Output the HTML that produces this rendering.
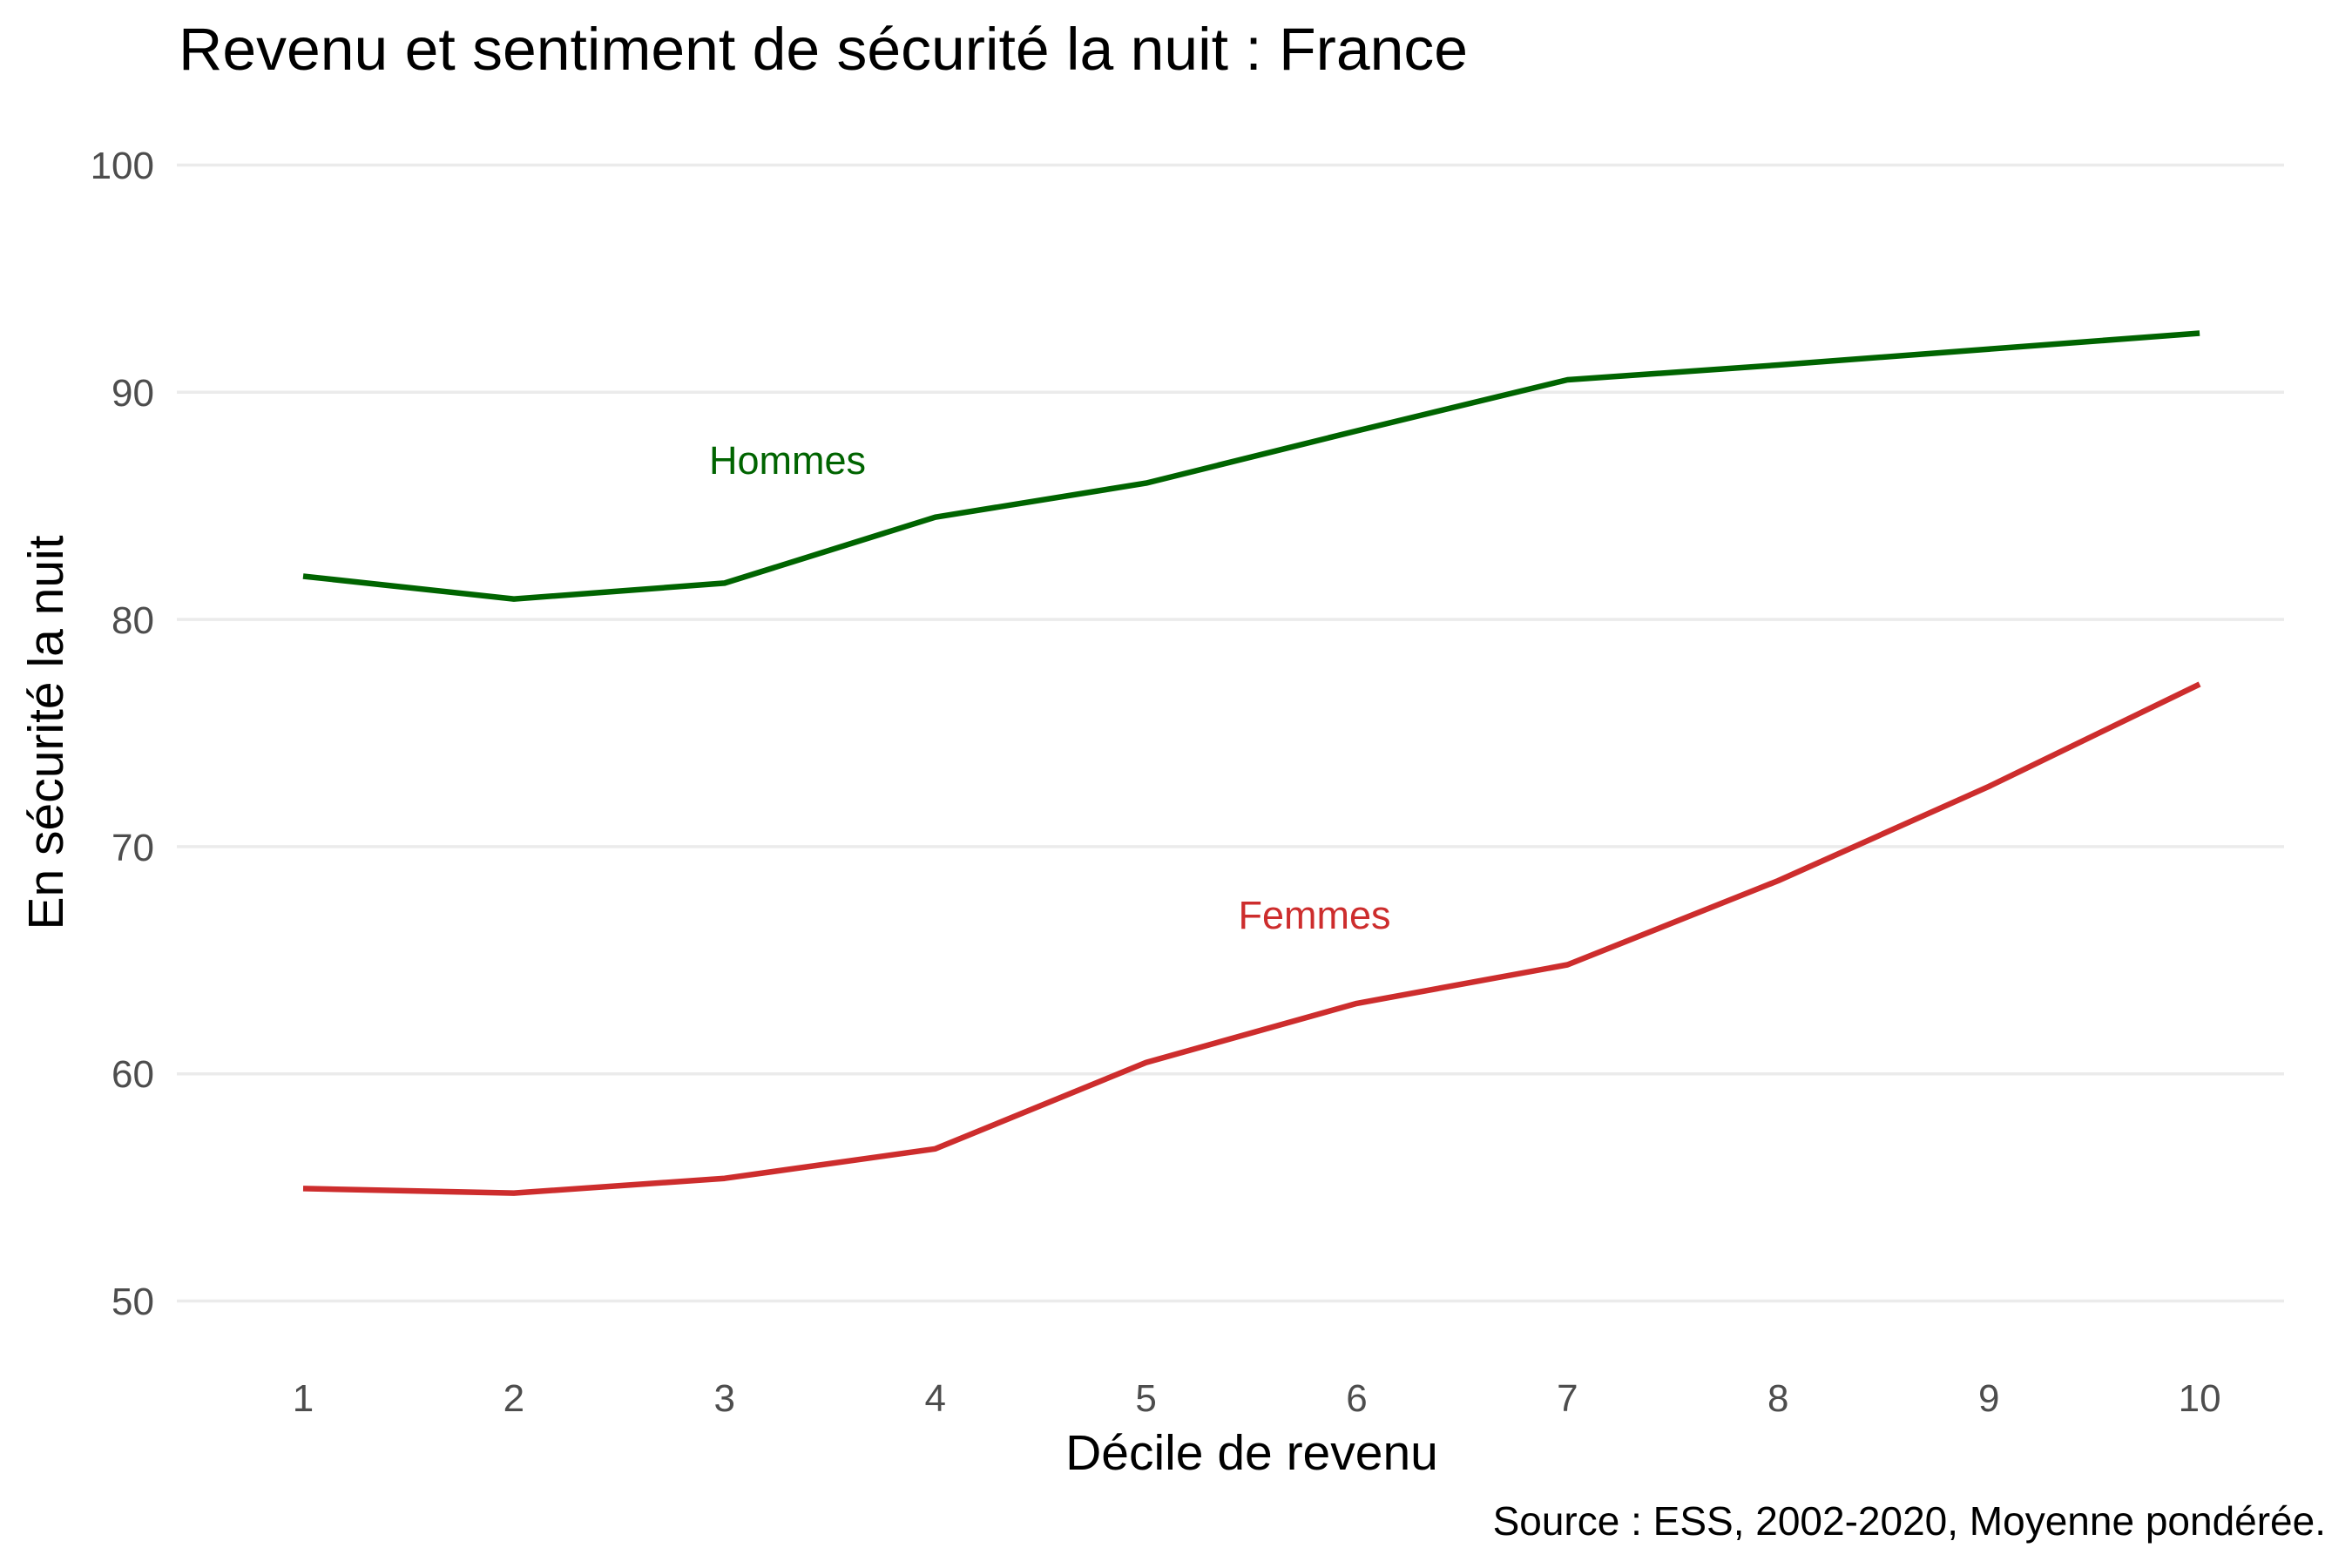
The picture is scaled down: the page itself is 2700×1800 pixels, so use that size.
<!DOCTYPE html>
<html><head><meta charset="utf-8"><style>
html,body{margin:0;padding:0;background:#fff;}
svg{display:block;font-family:"Liberation Sans",Arial,sans-serif;}
</style></head><body>
<svg width="2700" height="1800" viewBox="0 0 2700 1800" xmlns="http://www.w3.org/2000/svg">
<rect width="2700" height="1800" fill="#fff"/>
<g stroke="#ebebeb" stroke-width="3.5">
<line x1="203" x2="2622" y1="189.5" y2="189.5"/>
<line x1="203" x2="2622" y1="450.3" y2="450.3"/>
<line x1="203" x2="2622" y1="711.1" y2="711.1"/>
<line x1="203" x2="2622" y1="971.9" y2="971.9"/>
<line x1="203" x2="2622" y1="1232.7" y2="1232.7"/>
<line x1="203" x2="2622" y1="1493.5" y2="1493.5"/>
</g>
<g fill="#4d4d4d" font-size="44" text-anchor="end">
<text x="177" y="205">100</text>
<text x="177" y="466">90</text>
<text x="177" y="727">80</text>
<text x="177" y="988">70</text>
<text x="177" y="1248">60</text>
<text x="177" y="1509">50</text>
</g>
<g fill="#4d4d4d" font-size="44" text-anchor="middle">
<text x="348" y="1620">1</text>
<text x="589.9" y="1620">2</text>
<text x="831.8" y="1620">3</text>
<text x="1073.7" y="1620">4</text>
<text x="1315.6" y="1620">5</text>
<text x="1557.5" y="1620">6</text>
<text x="1799.4" y="1620">7</text>
<text x="2041.3" y="1620">8</text>
<text x="2283.2" y="1620">9</text>
<text x="2525.1" y="1620">10</text>
</g>
<polyline fill="none" stroke="#006400" stroke-width="6.5" stroke-linejoin="round" points="348,661.5 589.9,687.6 831.8,669.4 1073.7,593.7 1315.6,554.6 1557.5,494.6 1799.4,436 2041.3,419 2283.2,400.7 2525.1,382.5"/>
<polyline fill="none" stroke="#cd2d2d" stroke-width="6.5" stroke-linejoin="round" points="348,1364.4 589.9,1369.6 831.8,1352.7 1073.7,1318.8 1315.6,1219.7 1557.5,1151.9 1799.4,1107.5 2041.3,1011 2283.2,902.8 2525.1,785.4"/>
<text x="904" y="544" fill="#006400" font-size="45" text-anchor="middle">Hommes</text>
<text x="1509" y="1066" fill="#cd2d2d" font-size="45" text-anchor="middle">Femmes</text>
<text x="205" y="80" fill="#000" font-size="69" textLength="1480" lengthAdjust="spacingAndGlyphs">Revenu et sentiment de sécurité la nuit : France</text>
<text x="1437" y="1687" fill="#000" font-size="57" text-anchor="middle">Décile de revenu</text>
<text transform="translate(72,841) rotate(-90)" fill="#000" font-size="57" text-anchor="middle">En sécurité la nuit</text>
<text x="2670" y="1762" fill="#000" font-size="46" text-anchor="end">Source : ESS, 2002-2020, Moyenne pondérée.</text>
</svg>
</body></html>
